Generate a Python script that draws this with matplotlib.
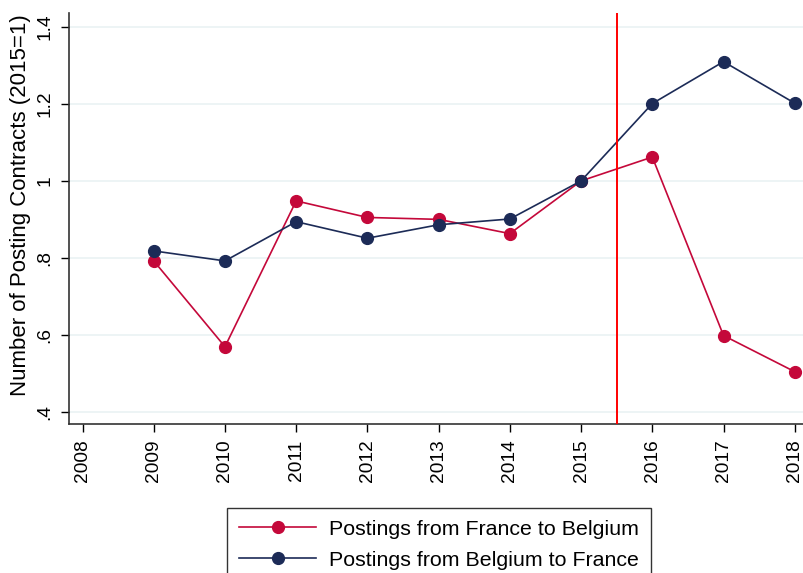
import numpy as np
import matplotlib
matplotlib.use('Agg')
import matplotlib.pyplot as plt

plt.rcParams['font.family'] = ['Liberation Sans', 'DejaVu Sans']

years = [2009, 2010, 2011, 2012, 2013, 2014, 2015, 2016, 2017, 2018]
fr_to_be = [0.792, 0.569, 0.948, 0.905, 0.900, 0.863, 1.0, 1.062, 0.598, 0.504]
be_to_fr = [0.818, 0.792, 0.894, 0.851, 0.886, 0.901, 1.0, 1.201, 1.310, 1.202]
xticks = list(range(2008, 2019))
yticks = [0.4, 0.6, 0.8, 1.0, 1.2, 1.4]
ylabels = ['.4', '.6', '.8', '1', '1.2', '1.4']

red = '#C4083A'
navy = '#1C2B57'

fig = plt.figure(figsize=(8.04, 5.73), dpi=100)
ax = fig.add_axes([0.0858, 0.260, 0.9142, 0.717])

for y in yticks:
    ax.axhline(y, color='#EAF2F3', lw=1.2, zorder=0)

ax.plot(years, fr_to_be, color=red, lw=1.2, marker='o', ms=8.5,
        label='Postings from France to Belgium', zorder=3)
ax.plot(years, be_to_fr, color=navy, lw=1.2, marker='o', ms=8.5,
        label='Postings from Belgium to France', zorder=3)
ax.axvline(2015.5, color='#FF0000', lw=1.4, zorder=4)

ax.set_xlim(2007.81, 2018.13)
ax.set_ylim(0.368, 1.436)
ax.set_xticks(xticks)
ax.set_xticklabels([str(x) for x in xticks], rotation=90, fontsize=13.8)
ax.set_yticks(yticks)
ax.set_yticklabels(ylabels, rotation=90, va='center', fontsize=13.8)
ax.tick_params(direction='out', length=6, width=1, colors='black', pad=5)
ax.set_ylabel('Number of Posting Contracts (2015=1)', fontsize=16)
ax.yaxis.set_label_coords(-0.052, 0.532)

for s in ['top', 'right']:
    ax.spines[s].set_visible(False)
for s in ['left', 'bottom']:
    ax.spines[s].set_color('#333333')
    ax.spines[s].set_linewidth(1.2)

leg = fig.legend(loc='upper center', bbox_to_anchor=(0.546, 0.1134), ncol=1,
                 fontsize=15.4, frameon=True, fancybox=False, handlelength=3.6,
                 borderpad=0.55, labelspacing=0.55, handletextpad=0.6,
                 borderaxespad=0, edgecolor='black')
leg.get_frame().set_linewidth(1.0)

fig.savefig('out.png', dpi=100)
